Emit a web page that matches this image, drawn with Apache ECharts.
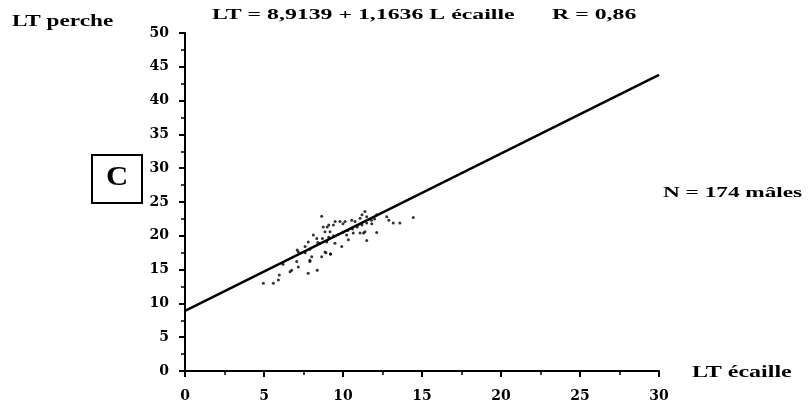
<!DOCTYPE html>
<html><head><meta charset="utf-8">
<script src="https://cdn.jsdelivr.net/npm/echarts@6/dist/echarts.min.js"></script>
<style>html,body{margin:0;padding:0;background:#fff}#c{width:808px;height:416px}</style>
</head><body><div id="c"></div>
<script>
const xTicks = [0, 5, 10, 15, 20, 25, 30];
const yTicks = [0, 5, 10, 15, 20, 25, 30, 35, 40, 45, 50];
const scaleLen = [4.96,5.59,5.91,5.97,6.65,6.75,7.8,8.37,7.07,7.17,7.91,8.02,8.65,8.92,9.22,7.17,7.6,7.8,
  8.12,8.34,8.54,8.97,9.49,9.92,10.34,8.65,8.75,9.0,8.86,9.18,9.39,9.81,10.13,10.55,10.76,11.08,11.39,
  11.5,11.82,12.13,12.77,13.18,13.6,14.45,12.13,11.39,11.5,11.08,10.23,
  8.4,8.7,9.1,9.4,9.7,10.0,10.3,10.6,10.9,11.2,11.5,11.8,12.0,7.6,7.9,
  7.1,8.86,9.2,7.9,9.1,9.5,10.65,11.3,12.9,11.2,6.2,10.0];
const fishLen = [12.97,12.97,13.46,14.2,14.7,14.9,14.45,14.9,16.2,15.4,16.2,16.9,16.9,17.5,17.3,17.65,18.4,19.1,
  20.1,19.6,18.9,19.1,18.9,18.4,19.4,22.9,21.3,21.3,20.6,20.6,21.6,22.1,22.1,22.3,22.1,22.6,23.6,
  22.8,21.8,23.1,22.8,21.9,21.9,22.7,20.5,20.6,19.3,20.4,20.1,
  19.0,19.6,19.8,20.0,20.2,20.5,20.8,21.0,21.3,21.6,21.9,22.3,22.5,17.5,18.0,
  17.9,17.6,17.3,16.4,21.6,22.1,20.4,20.4,22.3,23.1,15.8,21.8];
const fitX = [0, 30];
const fitY = [8.9, 43.8];

const pts = scaleLen.map((x, i) => [x, fishLen[i]]);
const fit = fitX.map((x, i) => [x, fitY[i]]);
const LF = 'DejaVu Serif';
function txt(x, y, s, size, sx) {
  return {type: 'text', x: x, y: y, scaleX: sx, z: 10,
    style: {text: s, font: 'bold ' + size + 'px "Liberation Serif"', fill: '#000', verticalAlign: 'top'}};
}
const chart = echarts.init(document.getElementById('c'));
chart.setOption({
  animation: false,
  grid: {left: 185, right: 149, top: 33, bottom: 45},
  xAxis: {type: 'value', min: 0, max: 30, interval: 5,
    axisLine: {lineStyle: {color: '#000', width: 2}},
    axisTick: {length: 6, lineStyle: {color: '#000', width: 2}},
    minorTick: {show: true, splitNumber: 2, length: 4, lineStyle: {color: '#000', width: 1.5}},
    splitLine: {show: false},
    axisLabel: {color: '#000', fontFamily: LF, fontWeight: 'bold', fontSize: 14, margin: 18}},
  yAxis: {type: 'value', min: 0, max: 50, interval: 5,
    axisLine: {lineStyle: {color: '#000', width: 2}},
    axisTick: {length: 6, lineStyle: {color: '#000', width: 2}},
    minorTick: {show: true, splitNumber: 2, length: 4, lineStyle: {color: '#000', width: 1.5}},
    splitLine: {show: false},
    axisLabel: {color: '#000', fontFamily: LF, fontWeight: 'bold', fontSize: 14, margin: 16}},
  graphic: [
    txt(12, 14, 'LT perche', 16, 1.45),
    txt(212, 8, 'LT = 8,9139 + 1,1636 L écaille', 14, 1.7),
    txt(552, 8, 'R = 0,86', 14, 1.7),
    {type: 'rect', shape: {x: 92, y: 155, width: 50, height: 48}, style: {fill: '#fff', stroke: '#000', lineWidth: 2}},
    txt(106, 164, 'C', 28, 1.1),
    txt(663, 186, 'N = 174 mâles', 15, 1.55),
    txt(692, 365, 'LT écaille', 16, 1.5)
  ],
  series: [
    {type: 'line', data: fit, symbol: 'none', lineStyle: {color: '#000', width: 2.5}, z: 3},
    {type: 'scatter', data: pts, symbol: 'circle', symbolSize: 3, itemStyle: {color: '#000'}, z: 4}
  ]
});
</script></body></html>
